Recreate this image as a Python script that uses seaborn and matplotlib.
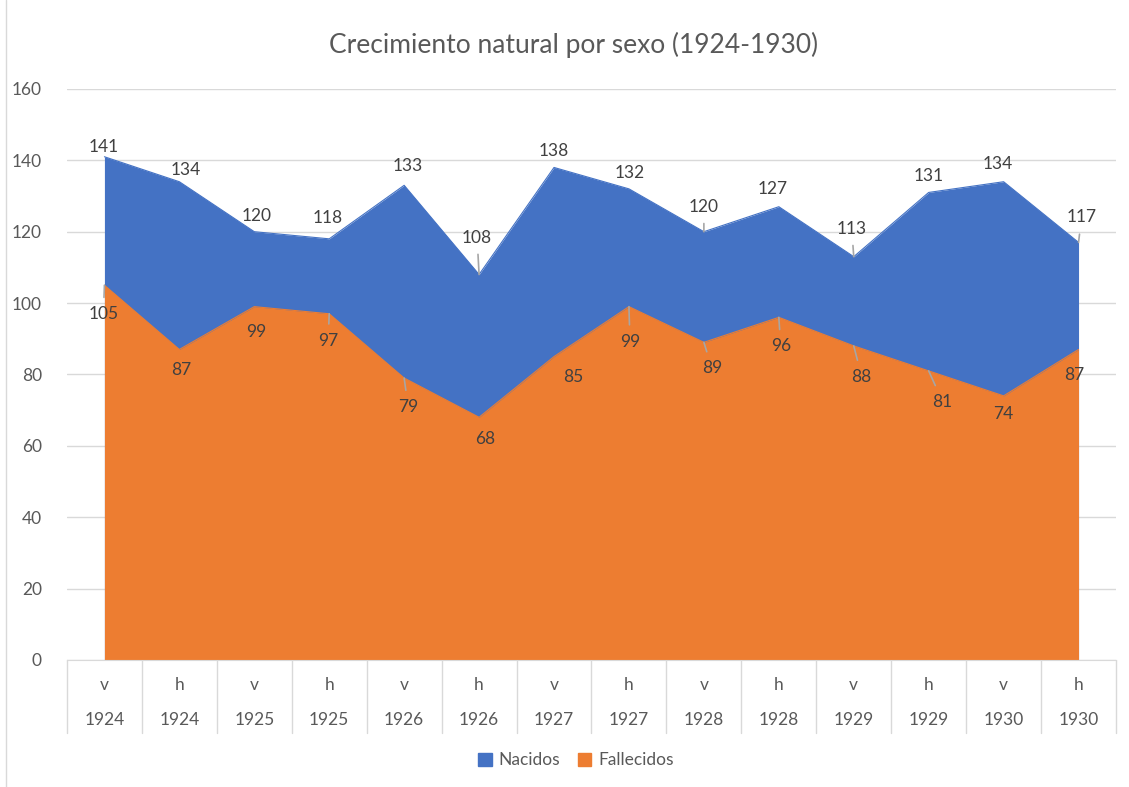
import pandas as pd
import matplotlib.pyplot as plt
import seaborn as sns
from matplotlib.patches import Patch

# ------------------ DATA ------------------ #
sexo = ["v", "h"] * 7
anios = ["1924", "1924", "1925", "1925", "1926", "1926", "1927",
         "1927", "1928", "1928", "1929", "1929", "1930", "1930"]
nacidos = [141, 134, 120, 118, 133, 108, 138, 132, 120, 127, 113, 131, 134, 117]
fallecidos = [105, 87, 99, 97, 79, 68, 85, 99, 89, 96, 88, 81, 74, 87]

df = pd.DataFrame({"pos": range(len(sexo)), "Nacidos": nacidos, "Fallecidos": fallecidos})

# label placement (pixel offsets of label centre from its point, as in the workbook)
off_nac = [(-1, 10), (6, 12), (2, 16), (-2, 21), (4, 19), (-2, 37), (0, 16),
           (1, 16), (0, 25), (-6, 18), (-2, 28), (0, 16), (-6, 18), (3, 25)]
off_fal = [(-1, -29), (2, -21), (2, -25), (-1, -27), (4, -29), (6, -22), (19, -20),
           (1, -35), (8, -26), (2, -29), (8, -31), (14, -31), (0, -18), (-4, -26)]
leader_nac = [False, False, False, False, False, True, False,
              False, True, False, True, False, False, True]
leader_fal = [True, False, False, True, True, False, False,
              True, True, True, True, True, False, False]

# ------------------ STYLE ------------------ #
sns.set_style("white")
plt.rcParams['font.family'] = ['Lato', 'DejaVu Sans']
AZUL = "#4472C4"
NARANJA = "#ED7D31"
GRIS_TXT = "#595959"
GRIS_LBL = "#404040"
GRIS_LIN = "#D9D9D9"
FS = 12.5

fig = plt.figure(figsize=(11.29, 7.87), dpi=100)
ax = fig.add_axes([0.0593, 0.1614, 0.9292, 0.7256])

# areas (overlapping, not stacked)
ax.fill_between(df["pos"], 0, df["Nacidos"], color=AZUL, linewidth=0, zorder=2)
sns.lineplot(data=df, x="pos", y="Nacidos", color=AZUL, linewidth=0.8, ax=ax, zorder=2)
ax.fill_between(df["pos"], 0, df["Fallecidos"], color=NARANJA, linewidth=0, zorder=3)
sns.lineplot(data=df, x="pos", y="Fallecidos", color=NARANJA, linewidth=0.8, ax=ax, zorder=3)


# data labels
def etiquetas(valores, offsets, leaders):
    for i, (v, (dx, dy), ld) in enumerate(zip(valores, offsets, leaders)):
        props = None
        if ld:
            props = dict(arrowstyle="-", color="#A6A6A6", linewidth=1.2,
                         shrinkA=-4, shrinkB=0)
        ax.annotate(str(v), (i, v), xytext=(dx, dy), textcoords="offset pixels",
                    ha="center", va="center", fontsize=FS, color=GRIS_LBL,
                    arrowprops=props, zorder=5)


etiquetas(nacidos, off_nac, leader_nac)
etiquetas(fallecidos, off_fal, leader_fal)

# axes
ax.set_xlim(-0.5, len(sexo) - 0.5)
ax.set_ylim(0, 160)
ax.set_yticks(range(0, 161, 20))
ax.yaxis.grid(True, color=GRIS_LIN, linewidth=1, zorder=0)
ax.set_axisbelow(True)
ax.tick_params(axis="y", length=0, pad=18, labelsize=FS, labelcolor=GRIS_TXT)
ax.set_xticks([])
ax.set_xlabel("")
ax.set_ylabel("")
for s in ["top", "right", "left"]:
    ax.spines[s].set_visible(False)
ax.spines["bottom"].set_color(GRIS_LIN)
ax.spines["bottom"].set_zorder(4)

# multi-level category axis
trans = ax.get_xaxis_transform()
for b in range(len(sexo) + 1):
    ax.plot([b - 0.5, b - 0.5], [0, -0.128], transform=trans, color=GRIS_LIN,
            linewidth=1, clip_on=False)
for i, (s, a) in enumerate(zip(sexo, anios)):
    ax.text(i, -0.044, s, transform=trans, ha="center", va="center",
            fontsize=FS, color=GRIS_TXT)
    ax.text(i, -0.105, a, transform=trans, ha="center", va="center",
            fontsize=FS, color=GRIS_TXT)

# title
fig.text(0.508, 0.943, "Crecimiento natural por sexo (1924-1930)", ha="center",
         va="center", fontsize=19, color=GRIS_TXT)

# legend
handles = [Patch(color=AZUL, label="Nacidos"), Patch(color=NARANJA, label="Fallecidos")]
fig.legend(handles=handles, loc="center", bbox_to_anchor=(0.51, 0.034), ncol=2,
           frameon=False, fontsize=FS, labelcolor=GRIS_TXT, handlelength=0.8,
           handleheight=0.8, handletextpad=0.4, columnspacing=1.0)

# chart border
fig.add_artist(plt.Line2D([6 / 1129, 6 / 1129], [0, 1], color=GRIS_LIN, linewidth=1))

plt.savefig("out.png", dpi=100)
